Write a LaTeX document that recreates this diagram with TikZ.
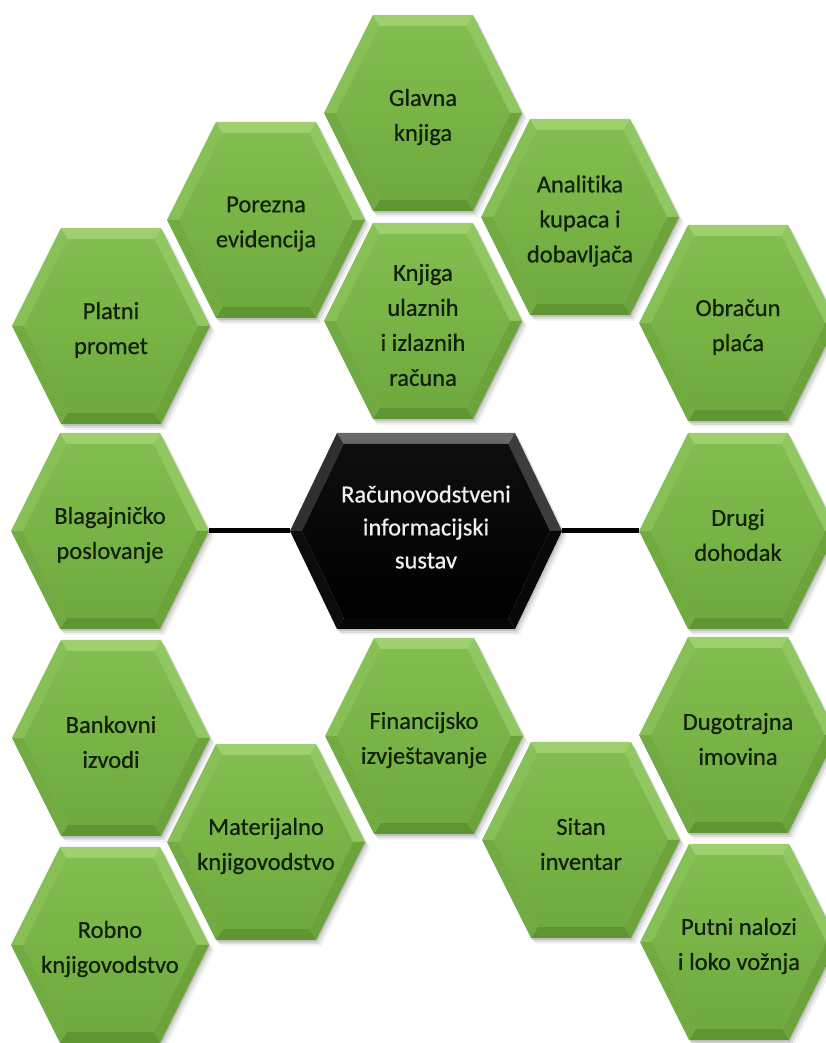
\documentclass[tikz,border=0pt]{standalone}
\usepackage{fontspec}
\setmainfont{Carlito}[Ligatures=NoCommon]
\newfontfamily\hexfont{Carlito}[Ligatures=NoCommon,FakeBold=0.6]
\definecolor{gTop}{HTML}{9FD06E}
\definecolor{gUL}{HTML}{88C058}
\definecolor{gUR}{HTML}{90C760}
\definecolor{gLR}{HTML}{6CA33B}
\definecolor{gBot}{HTML}{5F9632}
\definecolor{gLL}{HTML}{72AB41}
\definecolor{gFT}{HTML}{82BD4F}
\definecolor{gFB}{HTML}{6EAA3D}
\definecolor{kTop}{HTML}{686868}
\definecolor{kUL}{HTML}{303030}
\definecolor{kUR}{HTML}{3C3C3C}
\definecolor{kLR}{HTML}{080808}
\definecolor{kBot}{HTML}{050505}
\definecolor{kLL}{HTML}{0C0C0C}
\definecolor{kFT}{HTML}{0E0E0E}
\definecolor{kFB}{HTML}{000000}
\definecolor{gtxt}{HTML}{13200A}
\newcommand\bevelhex[6]{%
 \begin{scope}[shift={(#1,{1043-#2})}]
  \pgfmathsetmacro\Wi{#3-12}
  \pgfmathsetmacro\Hi{#4-11}
  \pgfmathsetmacro\Ii{(#4-11)*#5/#4}
  \path (-#3,0) coordinate (o1) ({-#3+#5},#4) coordinate (o2) ({#3-#5},#4) coordinate (o3)
        (#3,0) coordinate (o4) ({#3-#5},-#4) coordinate (o5) ({-#3+#5},-#4) coordinate (o6);
  \path (-\Wi,0) coordinate (i1) ({-\Wi+\Ii},\Hi) coordinate (i2) ({\Wi-\Ii},\Hi) coordinate (i3)
        (\Wi,0) coordinate (i4) ({\Wi-\Ii},-\Hi) coordinate (i5) ({-\Wi+\Ii},-\Hi) coordinate (i6);
  \fill[#6Top] (o2)--(o3)--(i3)--(i2)--cycle;
  \fill[#6UR] (o3)--(o4)--(i4)--(i3)--cycle;
  \fill[#6LR] (o4)--(o5)--(i5)--(i4)--cycle;
  \fill[#6Bot] (o5)--(o6)--(i6)--(i5)--cycle;
  \fill[#6LL] (o6)--(o1)--(i1)--(i6)--cycle;
  \fill[#6UL] (o1)--(o2)--(i2)--(i1)--cycle;
  \shade[top color=#6FT, bottom color=#6FB] (i1)--(i2)--(i3)--(i4)--(i5)--(i6)--cycle;
 \end{scope}}
\newcommand\hexshadow[5]{%
 \foreach \dx/\dy/\op in {1/2/0.12, 3/4/0.09, 5/6/0.05}{
 \begin{scope}[shift={({#1+\dx},{1043-#2-\dy})}]
  \fill[black,opacity=\op] (-#3,0)--({-#3+#5},#4)--({#3-#5},#4)--(#3,0)--({#3-#5},-#4)--({-#3+#5},-#4)--cycle;
 \end{scope}}}
\begin{document}
\begin{tikzpicture}[x=1pt,y=1pt,
  gtext/.style={minimum width=198pt,minimum height=196pt,inner sep=0pt,align=center,
    text=gtxt,font=\hexfont\fontsize{24.5}{35}\selectfont,yshift=-4pt},
  ktext/.style={minimum width=272pt,minimum height=196pt,inner sep=0pt,align=center,
    text=white!94!black,font=\hexfont\fontsize{24.5}{33}\selectfont,yshift=4pt},
  conn/.style={line width=5pt,black}]
\clip (0,0) rectangle (826,1043);
\fill[white] (0,0) rectangle (826,1043);
% shadows
\foreach \x/\y in {423/113,266/220,580/217,423/321,111/326,738/323,110/531,738/531,
  111/738,424/736,738/735,266/842,581/840,110/945,739/942}{\hexshadow{\x}{\y}{99}{98}{49}}
\hexshadow{426}{531}{136}{98}{47}
% green hexagons
\foreach \x/\y in {423/113,266/220,580/217,423/321,111/326,738/323,110/531,738/531,
  111/738,424/736,738/735,266/842,581/840,110/945,739/942}{\bevelhex{\x}{\y}{99}{98}{49}{g}}
\bevelhex{426}{531}{136}{98}{47}{k}
% labels
\node[gtext] (glavna) at (423,{1043-113}) {Glavna\\knjiga};
\node[gtext] (porezna) at (266,{1043-220}) {Porezna\\evidencija};
\node[gtext] (analitika) at (580,{1043-217}) {Analitika\\kupaca i\\dobavljača};
\node[gtext] (knjiga) at (423,{1043-321}) {Knjiga\\ulaznih\\i izlaznih\\računa};
\node[gtext] (platni) at (111,{1043-326}) {Platni\\promet};
\node[gtext] (obracun) at (738,{1043-323}) {Obračun\\plaća};
\node[gtext] (blag) at (110,{1043-531}) {Blagajničko\\poslovanje};
\node[ktext] (central) at (426,{1043-531}) {Računovodstveni\\informacijski\\sustav};
\node[gtext] (drugi) at (738,{1043-531}) {Drugi\\dohodak};
\node[gtext] (bankovni) at (111,{1043-738}) {Bankovni\\izvodi};
\node[gtext] (financ) at (424,{1043-736}) {Financijsko\\izvještavanje};
\node[gtext] (dugo) at (738,{1043-735}) {Dugotrajna\\imovina};
\node[gtext] (mater) at (266,{1043-842}) {Materijalno\\knjigovodstvo};
\node[gtext] (sitan) at (581,{1043-840}) {Sitan\\inventar};
\node[gtext] (robno) at (110,{1043-945}) {Robno\\knjigovodstvo};
\node[gtext] (putni) at (739,{1043-942}) {Putni nalozi\\i loko vožnja};
% connectors (horizontal, at the centre line of the black hexagon)
\coordinate (cw) at ([yshift=-4pt]central.west);
\coordinate (ce) at ([yshift=-4pt]central.east);
\draw[conn] (cw) -- (cw -| blag.east);
\draw[conn] (ce) -- (ce -| drugi.west);
\end{tikzpicture}
\end{document}
